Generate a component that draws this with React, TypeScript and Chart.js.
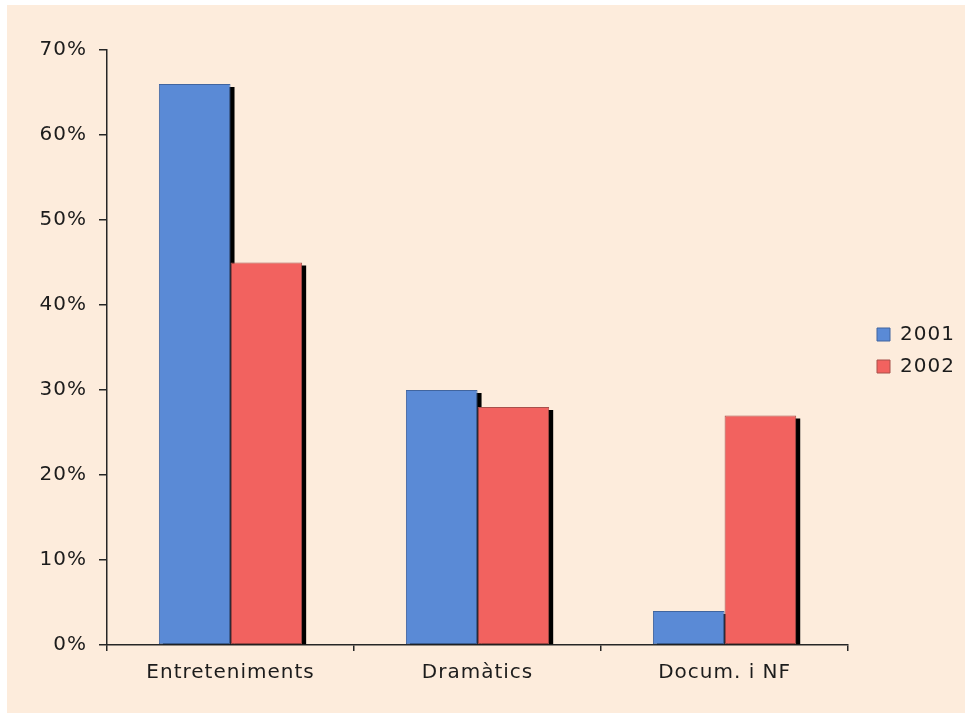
import React, { useEffect, useRef } from 'react';
import { Chart, registerables } from 'chart.js';

Chart.register(...registerables);

const categories = ['Entreteniments', 'Dramàtics', 'Docum. i NF'];
const seriesLabels = ['2001', '2002'];
const series2001 = [66, 30, 4];
const series2002 = [45, 28, 27];
const yTickValues = [0, 10, 20, 30, 40, 50, 60, 70];
const yTickLabels = ['0%', '10%', '20%', '30%', '40%', '50%', '60%', '70%'];

const FONT = '"DejaVu Sans", Verdana, sans-serif';
const TEXT = '#1c1c1c';
const AXIS = '#262626';
const PEACH = '#fdecdc';
const BLUE = '#5a8ad6';
const BLUE_BORDER = '#41659f';
const RED = '#f2625f';
const RED_BORDER = '#a8504b';

const CANVAS_W = 958;
const CANVAS_H = 708;
const LEGEND_BOX_X = 870;
const LEGEND_DY = -31;

const setSpacing = (chart: any) => {
  try {
    (chart.ctx as any).letterSpacing = '1px';
  } catch (e) {}
};

const spacingPlugin = {
  id: 'spacingPlugin',
  beforeUpdate: setSpacing,
  beforeLayout: setSpacing,
  beforeDraw: setSpacing,
};

const legendShiftPlugin = {
  id: 'legendShiftPlugin',
  afterLayout(chart: any) {
    const lg = chart.legend;
    if (!lg) return;
    const pad = lg.options.labels.padding;
    const dx = LEGEND_BOX_X - (lg.left + pad);
    lg.left += dx;
    lg.right += dx;
    lg.top += LEGEND_DY;
    lg.bottom += LEGEND_DY;
  },
};

const shadowPlugin = {
  id: 'shadowPlugin',
  beforeDatasetsDraw(chart: any) {
    const { ctx, chartArea } = chart;
    ctx.save();
    ctx.beginPath();
    ctx.rect(chartArea.left, chartArea.top - 10, chartArea.right - chartArea.left, chartArea.bottom - chartArea.top + 10);
    ctx.clip();
    ctx.fillStyle = '#000';
    chart.data.datasets.forEach((_: any, di: number) => {
      const meta = chart.getDatasetMeta(di);
      meta.data.forEach((el: any) => {
        const { x, y, base, width } = el.getProps(['x', 'y', 'base', 'width'], true);
        const left = x - width / 2;
        ctx.fillRect(left + 4, y + 3, width, base - y - 3);
      });
    });
    ctx.restore();
  },
};

export default function App() {
  const canvasRef = useRef<HTMLCanvasElement | null>(null);

  useEffect(() => {
    document.body.style.background = PEACH;
    if (!canvasRef.current) return;
    const chart = new Chart(canvasRef.current, {
      type: 'bar',
      data: {
        labels: categories,
        datasets: [
          {
            label: seriesLabels[0],
            data: series2001,
            backgroundColor: BLUE,
            borderColor: BLUE_BORDER,
            borderWidth: 1,
            borderSkipped: false,
          },
          {
            label: seriesLabels[1],
            data: series2002,
            backgroundColor: RED,
            borderColor: RED_BORDER,
            borderWidth: 1,
            borderSkipped: false,
          },
        ],
      },
      options: {
        animation: false,
        responsive: false,
        devicePixelRatio: 1,
        events: [],
        layout: { padding: { top: 45, left: 0, right: 17, bottom: 0 } },
        datasets: {
          bar: { categoryPercentage: 0.58, barPercentage: 1 },
        },
        plugins: {
          title: { display: false },
          tooltip: { enabled: false },
          legend: {
            display: true,
            position: 'right',
            labels: {
              boxWidth: 13,
              boxHeight: 13,
              padding: 12,
              color: TEXT,
              font: { family: FONT, size: 20 },
            },
          },
        },
        scales: {
          x: {
            type: 'category',
            offset: true,
            grid: {
              display: true,
              offset: true,
              drawOnChartArea: false,
              drawTicks: true,
              tickLength: 6,
              color: AXIS,
              lineWidth: 1.5,
            },
            border: { display: true, color: AXIS, width: 1.5 },
            ticks: {
              color: TEXT,
              font: { family: FONT, size: 20 },
              padding: 10,
              maxRotation: 0,
              autoSkip: false,
            },
            afterFit(scale: any) {
              scale.height = 68;
            },
          },
          y: {
            type: 'linear',
            min: 0,
            max: 70,
            afterBuildTicks(scale: any) {
              scale.ticks = yTickValues.map((v) => ({ value: v }));
            },
            grid: {
              display: true,
              drawOnChartArea: false,
              drawTicks: true,
              tickLength: 8,
              color: AXIS,
              lineWidth: 1.5,
            },
            border: { display: true, color: AXIS, width: 1.5 },
            ticks: {
              color: TEXT,
              font: { family: FONT, size: 20 },
              padding: 12,
              callback: (_v: any, i: number) => yTickLabels[i],
            },
            afterFit(scale: any) {
              scale.width = 100;
            },
          },
        },
      } as any,
      plugins: [spacingPlugin, legendShiftPlugin, shadowPlugin],
    });
    return () => chart.destroy();
  }, []);

  return (
    <div
      style={{
        position: 'fixed',
        left: 0,
        top: 0,
        width: 965,
        height: 713,
        background: '#ffffff',
        overflow: 'hidden',
      }}
    >
      <canvas
        ref={canvasRef}
        width={CANVAS_W}
        height={CANVAS_H}
        style={{
          position: 'absolute',
          left: 7,
          top: 5,
          width: CANVAS_W,
          height: CANVAS_H,
          background: PEACH,
          display: 'block',
        }}
      />
    </div>
  );
}
